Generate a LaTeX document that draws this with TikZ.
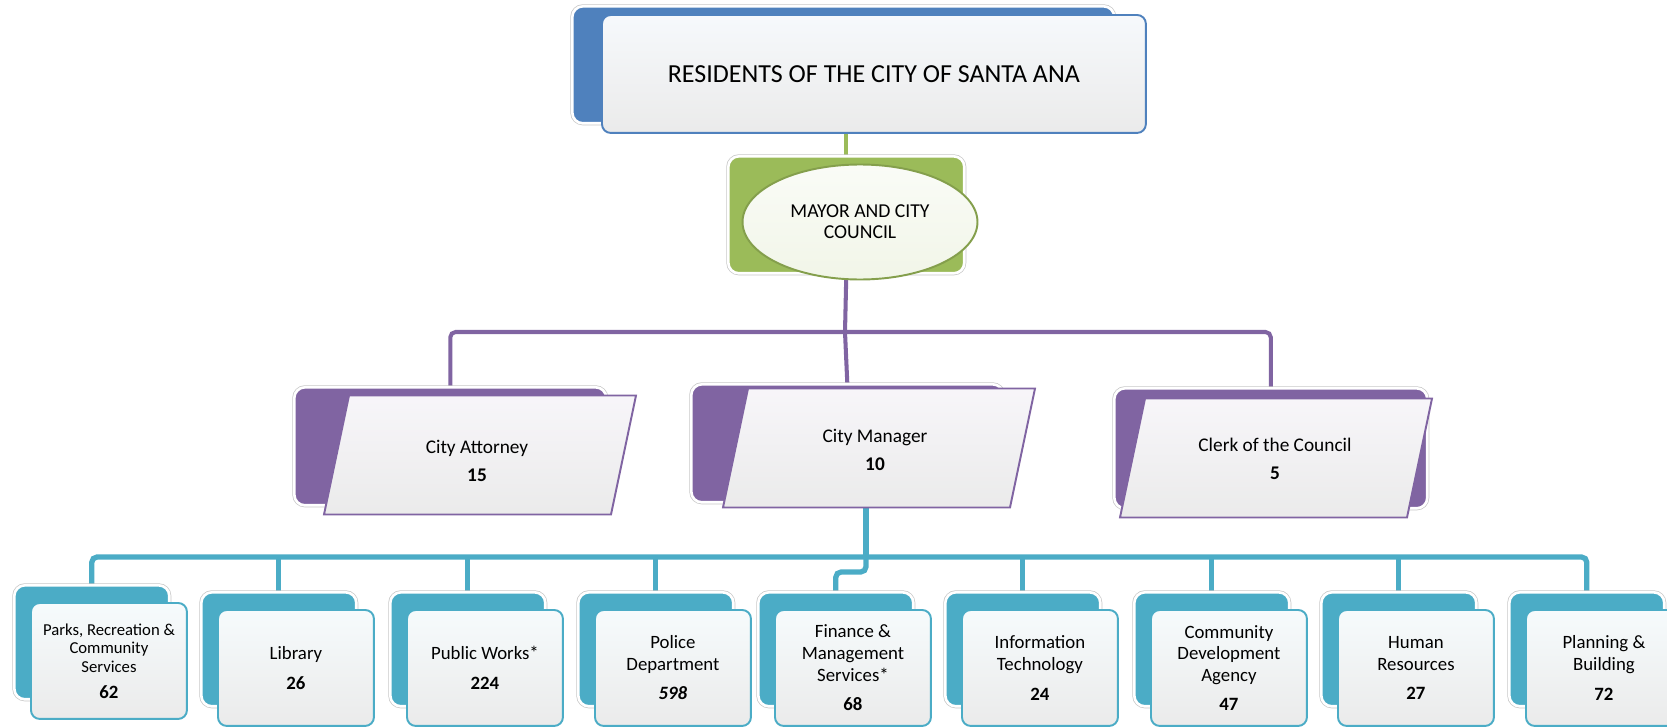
\documentclass[tikz,border=0pt]{standalone}
\usepackage{fontspec}
\setmainfont{Carlito}
\usepackage{xcolor}
\usepackage{tikz}
\usetikzlibrary{calc,shapes.geometric,backgrounds}
\definecolor{sablue}{RGB}{79,129,189}
\definecolor{sagreen}{RGB}{155,187,89}
\definecolor{sapurple}{RGB}{128,100,162}
\definecolor{sateal}{RGB}{75,172,198}
\newcommand{\slantbox}[1]{\draw[slantfront] ($(#1)+(-131,-59.5)$) -- ($(#1)+(156,-59.5)$) -- ($(#1)+(131,59.5)$) -- ($(#1)+(-156,59.5)$) -- cycle;}
\newcommand{\headcount}[1]{{\fontsize{10.7}{12}\selectfont\textbf{#1}}}
\tikzset{
  backbox/.style={anchor=north west,inner sep=0pt,rounded corners=6pt,draw=white,line width=1.5pt,preaction={draw=black!22,line width=2.3pt}},
  frontbox/.style={anchor=north west,inner sep=1pt,align=center,rounded corners=5pt,draw=#1,line width=1.1pt,top color=#1!5,middle color=#1!4,bottom color=black!8},
  slantfront/.style={draw=sapurple,line width=1.1pt,top color=sapurple!6,middle color=sapurple!5,bottom color=black!8},
  midtext/.style={align=center,font=\fontsize{11}{13}\selectfont},
  gline/.style={draw=sagreen,line width=2.3pt},
  pline/.style={draw=sapurple,line width=2.3pt,rounded corners=3pt},
  tline/.style={draw=sateal,line width=3pt,rounded corners=3pt}
}
\begin{document}
\begin{tikzpicture}[x=0.02cm,y=-0.02cm,font=\fontsize{10.7}{12.3}\selectfont]
  \useasboundingbox (0,0) rectangle (1667,727);
  % residents
  \node[backbox,fill=sablue,minimum width=10.84cm,minimum height=2.34cm] (resb) at (571,5) {};
  \node[frontbox=sablue,minimum width=10.88cm,minimum height=2.36cm,font=\fontsize{14.8}{17}\selectfont] (resf) at (601,14) {RESIDENTS OF THE CITY OF SANTA ANA};
  % mayor and council
  \node[backbox,fill=sagreen,minimum width=4.72cm,minimum height=2.34cm] (mayb) at (727,155) {};
  \node[ellipse,draw=sagreen!85!black,line width=1.1pt,top color=sagreen!5,bottom color=sagreen!14,minimum width=4.7cm,minimum height=2.3cm,inner sep=0pt,align=center,font=\fontsize{11.2}{12}\selectfont] (mayor) at (860,222) {MAYOR AND CITY\\COUNCIL};
  % attorney, manager, clerk
  \node[backbox,fill=sapurple,minimum width=6.24cm,minimum height=2.36cm] (attyb) at (293,386) {};
  \node[backbox,fill=sapurple,minimum width=6.24cm,minimum height=2.36cm] (cmb) at (690,383) {};
  \node[backbox,fill=sapurple,minimum width=6.26cm,minimum height=2.4cm] (clerkb) at (1113,387) {};
  \coordinate (attyc) at (480,455);
  \coordinate (cmc) at (879,448);
  \coordinate (clerkc) at (1276,458);
  \slantbox{attyc}
  \slantbox{cmc}
  \slantbox{clerkc}
  \node[midtext] (atty) at (477,461) {City Attorney\\[3pt]\textbf{15}};
  \node[midtext] (cm) at (875,450) {City Manager\\[3pt]\textbf{10}};
  \node[midtext] (clerk) at (1275,459) {Clerk of the Council\\[3pt]\textbf{5}};
  % departments
  \node[backbox,fill=sateal,minimum width=3.1cm,minimum height=2.28cm] (parksb) at (13,584) {};
  \node[frontbox=sateal,minimum width=3.12cm,minimum height=2.32cm,font=\fontsize{9.5}{10.6}\selectfont] (parks) at (30,602) {Parks, Recreation \&\\Community\\Services\\[4pt]\headcount{62}};
  \node[backbox,fill=sateal,minimum width=3.1cm,minimum height=2.28cm] (libb) at (200,591) {};
  \node[frontbox=sateal,minimum width=3.12cm,minimum height=2.32cm] (lib) at (217,609) {Library\\[4.5pt]\textbf{26}};
  \node[backbox,fill=sateal,minimum width=3.1cm,minimum height=2.28cm] (pwb) at (389,591) {};
  \node[frontbox=sateal,minimum width=3.12cm,minimum height=2.32cm] (pw) at (406,609) {Public Works*\\[4.5pt]\textbf{224}};
  \node[backbox,fill=sateal,minimum width=3.1cm,minimum height=2.28cm] (polb) at (577,591) {};
  \node[frontbox=sateal,minimum width=3.12cm,minimum height=2.32cm] (pol) at (594,609) {Police\\Department\\[4.5pt]\textbf{\textit{598}}};
  \node[backbox,fill=sateal,minimum width=3.1cm,minimum height=2.28cm] (finb) at (757,591) {};
  \node[frontbox=sateal,minimum width=3.12cm,minimum height=2.32cm] (fin) at (774,609) {Finance \&\\Management\\Services*\\[4.5pt]\textbf{68}};
  \node[backbox,fill=sateal,minimum width=3.1cm,minimum height=2.28cm] (itb) at (944,591) {};
  \node[frontbox=sateal,minimum width=3.12cm,minimum height=2.32cm] (it) at (961,609) {Information\\Technology\\[4.5pt]\textbf{24}};
  \node[backbox,fill=sateal,minimum width=3.1cm,minimum height=2.28cm] (cdab) at (1133,591) {};
  \node[frontbox=sateal,minimum width=3.12cm,minimum height=2.32cm] (cda) at (1150,609) {Community\\Development\\Agency\\[4.5pt]\textbf{47}};
  \node[backbox,fill=sateal,minimum width=3.1cm,minimum height=2.28cm] (hrb) at (1320,591) {};
  \node[frontbox=sateal,minimum width=3.12cm,minimum height=2.32cm] (hr) at (1337,609) {Human\\Resources\\[4.5pt]\textbf{27}};
  \node[backbox,fill=sateal,minimum width=3.1cm,minimum height=2.28cm] (pbb) at (1508,591) {};
  \node[frontbox=sateal,minimum width=3.12cm,minimum height=2.32cm] (pb) at (1525,609) {Planning \&\\Building\\[4.5pt]\textbf{72}};
  % connectors
  \coordinate (pbus) at (845,332);
  \coordinate (cmbot) at (866,507);
  \coordinate (tbus) at (866,557);
  \begin{scope}[on background layer]
    \draw[gline] (mayb.north) -- (mayb.north |- resf.south);
    \draw[pline] (mayb.south) -- (pbus);
    \draw[pline] (attyb.north) |- (pbus) -| (clerkb.north);
    \draw[pline] (pbus) -- (cmb.north);
    \draw[tline] (cmbot) -- (tbus);
    \draw[tline] (parksb.north) |- (tbus) -| (pbb.north);
    \draw[tline] (libb.north) -- (libb.north |- tbus);
    \draw[tline] (pwb.north) -- (pwb.north |- tbus);
    \draw[tline] (polb.north) -- (polb.north |- tbus);
    \draw[tline] (tbus) -- ++(0,15) -| (finb.north);
    \draw[tline] (itb.north) -- (itb.north |- tbus);
    \draw[tline] (cdab.north) -- (cdab.north |- tbus);
    \draw[tline] (hrb.north) -- (hrb.north |- tbus);
  \end{scope}
\end{tikzpicture}
\end{document}
